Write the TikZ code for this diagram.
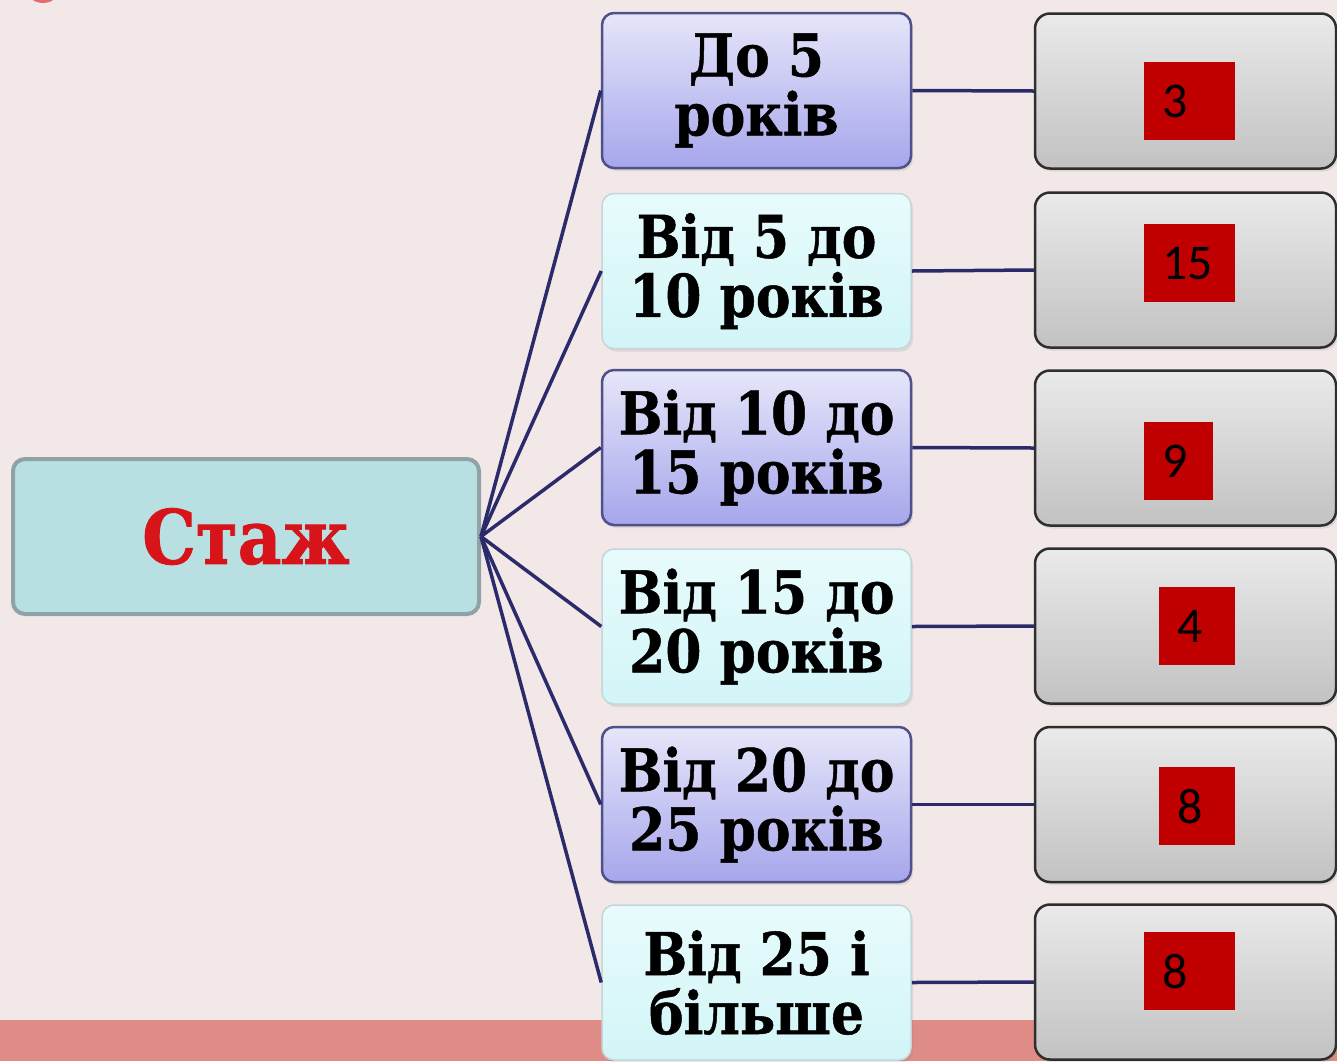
\documentclass[tikz,border=0pt]{standalone}
\usepackage{fontspec}
\usetikzlibrary{shadows}
\newfontfamily\boxfont{DejaVu Serif}[FakeStretch=0.88, BoldFeatures={FakeBold=0.8}]
\newfontfamily\titlefont{DejaVu Serif}[FakeStretch=0.9, BoldFeatures={FakeBold=1.2}]
\newfontfamily\numfont{Carlito}
\definecolor{bgcol}{HTML}{F3E8E8}
\definecolor{bandcol}{HTML}{E08C86}
\definecolor{conncol}{HTML}{2B2B6B}
\definecolor{lavtop}{HTML}{E6E6FA}
\definecolor{lavbot}{HTML}{A6A6EC}
\definecolor{lavborder}{HTML}{50508A}
\definecolor{cyantop}{HTML}{E8FBFC}
\definecolor{cyanbot}{HTML}{D2F5F7}
\definecolor{cyanborder}{HTML}{C4D6D9}
\definecolor{greytop}{HTML}{EAEAEA}
\definecolor{greybot}{HTML}{C2C2C2}
\definecolor{greyborder}{HTML}{2E2E2E}
\definecolor{tealfill}{HTML}{B8E0E2}
\definecolor{tealborder}{HTML}{8FA3A6}
\definecolor{titlered}{HTML}{D7141A}
\definecolor{sqred}{HTML}{C00000}
\definecolor{dotred}{HTML}{E86A6A}
\tikzset{
  midbox/.style={rounded corners=12pt, minimum width=309pt, minimum height=155pt,
    inner sep=0pt, align=center, font=\boxfont\bfseries\fontsize{59}{59}\selectfont,
    drop shadow={shadow xshift=2pt, shadow yshift=-3pt, opacity=0.18}},
  lavbox/.style={midbox, draw=lavborder, line width=2.5pt, top color=lavtop, bottom color=lavbot},
  cyanbox/.style={midbox, draw=cyanborder, line width=1.5pt, top color=cyantop, bottom color=cyanbot},
  greybox/.style={rounded corners=15pt, minimum width=301pt, minimum height=155pt,
    inner sep=0pt, draw=greyborder, line width=2.5pt, top color=greytop, bottom color=greybot,
    drop shadow={shadow xshift=2pt, shadow yshift=-3pt, opacity=0.18}},
  titlebox/.style={rounded corners=12pt, minimum width=466pt, minimum height=155pt,
    inner sep=0pt, draw=tealborder, line width=4pt, fill=tealfill,
    text=titlered, font=\titlefont\bfseries\fontsize{75}{75}\selectfont},
  redsq/.style={fill=sqred, anchor=north west, inner xsep=18pt, inner ysep=0pt,
    align=left, minimum height=78pt, font=\numfont\fontsize{50}{50}\selectfont, text=black},
  conn/.style={draw=conncol, line width=3.5pt}
}
\begin{document}
\begin{tikzpicture}[x=1pt, y=-1pt]
\useasboundingbox (0,0) rectangle (1337,1061);
\fill[bgcol] (0,0) rectangle (1337,1061);
\fill[bandcol] (0,1020) rectangle (1337,1061);
\begin{scope}
\clip (0,0) rectangle (1337,1061);
\fill[dotred] (43,-16) circle (19);
\end{scope}

\node[titlebox] (staj) at (246,536.5) {Стаж};

\node[lavbox]  (m1) at (756.5,90.5)  {До 5\\років};
\node[cyanbox] (m2) at (756.5,271)   {Від 5 до\\10 років};
\node[lavbox]  (m3) at (756.5,447.5) {Від 10 до\\15 років};
\node[cyanbox] (m4) at (756.5,626.5) {Від 15 до\\20 років};
\node[lavbox]  (m5) at (756.5,804.5) {Від 20 до\\25 років};
\node[cyanbox] (m6) at (756.5,982.5) {Від 25 і\\більше};

\node[greybox] (r1) at (1185.5,91)    {};
\node[greybox] (r2) at (1185.5,270)   {};
\node[greybox] (r3) at (1185.5,448)   {};
\node[greybox] (r4) at (1185.5,626)   {};
\node[greybox] (r5) at (1185.5,804.5) {};
\node[greybox] (r6) at (1185.5,982)   {};

\foreach \i in {1,...,6} {
  \draw[conn] (staj.east) -- (m\i.west);
  \draw[conn] (m\i.east) -- (r\i.west);
}

\node[redsq, text width=55pt] (s1) at (1144,62)  {3};
\node[redsq, text width=55pt] (s2) at (1144,224) {15};
\node[redsq, text width=33pt] (s3) at (1144,422) {9};
\node[redsq, text width=40pt] (s4) at (1159,587) {4};
\node[redsq, text width=40pt] (s5) at (1159,767) {8};
\node[redsq, text width=55pt] (s6) at (1144,932) {8};
\end{tikzpicture}
\end{document}
